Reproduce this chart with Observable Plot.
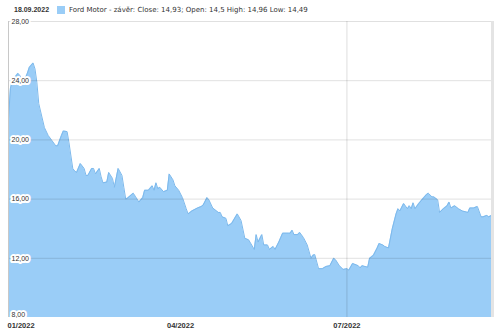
<!DOCTYPE html>
<html>
<head>
<meta charset="utf-8">
<script src="https://cdn.jsdelivr.net/npm/d3@7"></script>
<script src="https://cdn.jsdelivr.net/npm/@observablehq/plot@0.6"></script>
<style>
  html, body { margin: 0; padding: 0; background: #fff; }
  #wrap { position: relative; width: 500px; height: 331px; font-family: "Liberation Sans", Arial, sans-serif; }
  #hdr { position: absolute; left: 0; top: 0; width: 500px; height: 20px; font-size: 7px; color: #333; }
  #hdr .date { position: absolute; left: 14px; top: 6px; font-weight: bold; }
  #hdr .sw { position: absolute; left: 57px; top: 6px; width: 8px; height: 8px; background: #9acdf7; }
  #hdr .lab { position: absolute; left: 69px; top: 5.5px; font-family: "DejaVu Sans", sans-serif; }
</style>
</head>
<body>
<div id="wrap">
  <div id="chart"></div>
  <div id="hdr"><span class="date"></span><span class="sw"></span><span class="lab"></span></div>
</div>
<script>
const headerDate = "18.09.2022";
const seriesLabel = "Ford Motor - závěr: Close: 14,93; Open: 14,5 High: 14,96 Low: 14,49";

const dates = [
  "2022-01-03","2022-01-04","2022-01-05","2022-01-08","2022-01-09","2022-01-11","2022-01-13","2022-01-14","2022-01-16","2022-01-17",
  "2022-01-18","2022-01-19","2022-01-22","2022-01-24","2022-01-26","2022-01-28","2022-01-29","2022-01-31","2022-02-01","2022-02-03",
  "2022-02-04","2022-02-06","2022-02-07","2022-02-08","2022-02-10","2022-02-12","2022-02-13","2022-02-14","2022-02-16","2022-02-17",
  "2022-02-18","2022-02-20","2022-02-21","2022-02-22","2022-02-24","2022-02-25","2022-02-27","2022-02-28","2022-03-02","2022-03-04",
  "2022-03-05","2022-03-06","2022-03-07","2022-03-10","2022-03-11","2022-03-13","2022-03-15","2022-03-16","2022-03-18","2022-03-20",
  "2022-03-21","2022-03-22","2022-03-23","2022-03-24","2022-03-26","2022-03-28","2022-03-29","2022-03-31","2022-04-01","2022-04-03",
  "2022-04-05","2022-04-07","2022-04-08","2022-04-10","2022-04-13","2022-04-15","2022-04-16","2022-04-18","2022-04-19","2022-04-21",
  "2022-04-24","2022-04-25","2022-04-26","2022-04-28","2022-04-29","2022-05-01","2022-05-04","2022-05-06","2022-05-08","2022-05-10",
  "2022-05-13","2022-05-14","2022-05-15","2022-05-17","2022-05-18","2022-05-20","2022-05-21","2022-05-23","2022-05-24","2022-05-26",
  "2022-05-28","2022-05-31","2022-06-01","2022-06-02","2022-06-03","2022-06-05","2022-06-06","2022-06-08","2022-06-10","2022-06-12",
  "2022-06-13","2022-06-14","2022-06-16","2022-06-18","2022-06-20","2022-06-22","2022-06-24","2022-06-25","2022-06-27","2022-06-29",
  "2022-07-01","2022-07-02","2022-07-04","2022-07-07","2022-07-08","2022-07-09","2022-07-12","2022-07-13","2022-07-15","2022-07-17",
  "2022-07-18","2022-07-20","2022-07-21","2022-07-23","2022-07-25","2022-07-27","2022-07-28","2022-07-29","2022-07-31","2022-08-02",
  "2022-08-03","2022-08-04","2022-08-05","2022-08-06","2022-08-08","2022-08-10","2022-08-12","2022-08-13","2022-08-15","2022-08-16",
  "2022-08-18","2022-08-19","2022-08-21","2022-08-23","2022-08-24","2022-08-25","2022-08-27","2022-08-29","2022-08-31","2022-09-03",
  "2022-09-04","2022-09-06","2022-09-08","2022-09-10","2022-09-11","2022-09-13","2022-09-14","2022-09-16"
];
const closes = [
  21.44,23.46,24.0,24.5,24.35,23.9,24.5,24.9,25.2,24.8,
  23.9,22.45,20.83,20.3,19.95,19.6,19.6,20.3,20.6,20.56,
  19.8,18.07,17.9,17.8,18.4,18.07,17.6,17.6,18.07,18.07,
  17.7,18.07,17.5,17.1,17.15,17.8,17.4,16.8,18.07,17.6,
  16.8,16.0,16.07,16.4,16.2,15.8,16.1,16.6,16.6,16.9,
  16.6,17.1,16.7,16.8,16.5,16.6,17.7,17.3,16.9,16.6,
  16.1,15.35,15.0,15.2,15.4,15.5,15.6,16.1,15.95,15.4,
  15.1,15.1,14.8,14.7,14.2,14.35,15.0,14.55,13.35,13.25,
  12.6,13.6,13.1,13.6,12.9,12.9,12.6,12.8,12.6,13.1,
  13.7,13.7,13.7,13.9,13.6,13.6,13.75,13.4,12.9,12.0,
  12.2,12.25,11.3,11.3,11.45,11.5,12.0,11.9,11.5,11.25,
  11.3,11.2,11.65,11.5,11.35,11.5,11.4,12.0,12.2,12.7,
  13.0,12.9,12.8,12.7,14.0,15.0,15.35,15.2,15.7,15.35,
  15.55,15.35,15.75,15.35,15.7,16.0,16.3,16.4,16.15,16.15,
  15.95,15.1,15.35,15.55,15.8,15.4,15.55,15.35,15.2,15.1,
  15.4,15.4,15.5,14.8,14.8,14.9,14.8,14.93
];
const yTicks = [8, 12, 16, 20, 24, 28];
const xTickDates = ["2022-01-03", "2022-04-04", "2022-07-01"];
const xTickLabels = ["01/2022", "04/2022", "07/2022"];
const xGridDates = ["2022-07-01"];

document.querySelector("#hdr .date").textContent = headerDate;
document.querySelector("#hdr .lab").textContent = seriesLabel;

const data = dates.map((d, i) => ({date: new Date(d), close: closes[i]}));
const xStart = new Date(dates[0]);
const xEnd = new Date(dates[dates.length - 1]);
const yMin = yTicks[0];
const fmt = v => v.toFixed(2).replace(".", ",");
const xt = xTickDates.map((d, i) => ({date: new Date(d), label: xTickLabels[i]}));

const chart = Plot.plot({
  width: 500,
  height: 331,
  marginLeft: 8,
  marginRight: 8,
  marginTop: 21,
  marginBottom: 14,
  style: {fontFamily: "Liberation Sans, Arial, sans-serif", background: "white", overflow: "visible"},
  x: {type: "utc", domain: [xStart, xEnd], axis: null},
  y: {domain: [yTicks[0], yTicks[yTicks.length - 1]], axis: null},
  marks: [
    Plot.areaY(data, {x: "date", y1: () => yMin, y2: "close", fill: "#9acdf7"}),
    Plot.lineY(data, {x: "date", y: "close", stroke: "#7db9ec", strokeWidth: 1}),
    Plot.ruleY(yTicks.slice(1), {stroke: "#000", strokeOpacity: 0.12, strokeWidth: 1}),
    Plot.ruleX(xGridDates.map(d => new Date(d)), {stroke: "#000", strokeOpacity: 0.13, strokeWidth: 1}),
    Plot.ruleX([xStart], {stroke: "#c8c8c8", strokeWidth: 1}),
    Plot.ruleX([xEnd], {stroke: "#e4e4e4", strokeWidth: 3}),
    Plot.text(yTicks.filter(v => v !== yMin), {x: () => xStart, y: d => d, text: fmt, textAnchor: "start", dx: 3, fontSize: 7, fill: "#333", stroke: "white", strokeWidth: 4}),
    Plot.text([yMin], {x: () => xStart, y: d => d, text: fmt, textAnchor: "start", dx: 3, dy: -3, fontSize: 7, fill: "#333", stroke: "white", strokeWidth: 4}),
    Plot.text(xt.slice(0, 1), {x: "date", y: () => yMin, text: "label", textAnchor: "start", dy: 8, dx: -1, fontSize: 7.5, fontWeight: "bold", fill: "#333"}),
    Plot.text(xt.slice(1), {x: "date", y: () => yMin, text: "label", textAnchor: "middle", dy: 8, fontSize: 7.5, fontWeight: "bold", fill: "#333"})
  ]
});
document.getElementById("chart").appendChild(chart);
</script>
</body>
</html>
